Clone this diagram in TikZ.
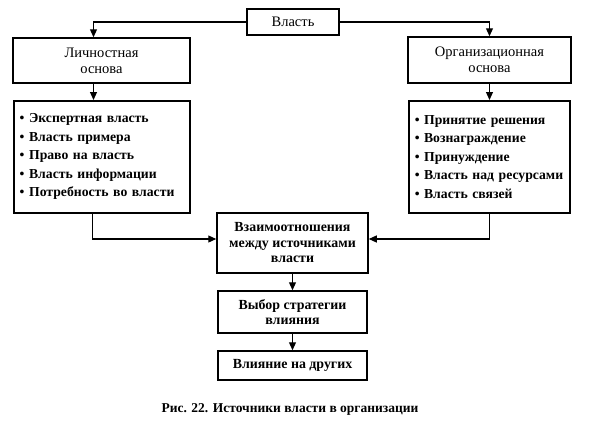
\documentclass[tikz,border=0pt]{standalone}
\usepackage{fontspec}
\setmainfont{Liberation Serif}
\usetikzlibrary{positioning,arrows.meta}

\begin{document}
\begin{tikzpicture}[%
        x=1pt, y=-1pt,
        box/.style={%
            draw, line width=1.5pt, inner sep=2pt,
            align=center, node font=\fontsize{14.5}{16}\selectfont,
        },
        listbox/.style={%
            box, align=left, anchor=north west, text width=#1,
            node font=\fontsize{13.7}{18.5}\selectfont\bfseries,
            inner xsep=6pt, inner ysep=5pt,
        },
        chainbox/.style={%
            box, node font=\fontsize{13.9}{15.5}\selectfont\bfseries,
        },
        link/.style={%
            line width=1.2pt, -{Triangle[length=8pt,width=7pt]},
        },
    ]
    \useasboundingbox (0,0) rectangle (590,429);

    % top
    \node (power) at (293,22) [box, minimum width=92pt, minimum height=26pt] {Власть};

    \node (personal) at (101.5,60.5) [box, minimum width=177pt, minimum height=45pt] {Личностная\\основа};
    \node (organizational) at (489.5,60) [box, minimum width=163pt, minimum height=46pt] {Организационная\\основа};

    % lists
    \node (personal_list) at (13,100) [listbox=164pt, minimum height=112pt] {%
        \textbullet\ Экспертная власть\\
        \textbullet\ Власть примера\\
        \textbullet\ Право на власть\\
        \textbullet\ Власть информации\\
        \textbullet\ Потребность во власти};
    \node (organizational_list) at (408,100) [listbox=149pt, minimum height=112pt] {%
        \textbullet\ Принятие решения\\
        \textbullet\ Вознаграждение\\
        \textbullet\ Принуждение\\
        \textbullet\ Власть над ресурсами\\
        \textbullet\ Власть связей};

    % bottom chain
    \node (relations) at (292.5,243) [chainbox, minimum width=151pt, minimum height=60pt] {Взаимоотношения\\между источниками\\власти};
    \node (strategy) at (292.5,312) [chainbox, minimum width=149pt, minimum height=42pt] {Выбор стратегии\\влияния};
    \node (influence) at (292.5,365.5) [chainbox, minimum width=149pt, minimum height=29pt] {Влияние на других};

    \node (caption) at (290,409) [node font=\fontsize{13.5}{15}\selectfont\bfseries] {Рис. 22. Источники власти в организации};

    % connectors
    \draw [link] (power.west) -| ([xshift=-8pt]personal.north);
    \draw [link] (power.east) -| (organizational.north);
    \draw [link] ([xshift=-8pt]personal.south) -- ([xshift=-8pt]personal.south |- personal_list.north);
    \draw [link] (organizational.south) -- (organizational.south |- organizational_list.north);
    \draw [link] ([xshift=-9pt]personal_list.south) |- ([yshift=4pt]relations.west);
    \draw [link] (organizational_list.south) |- ([yshift=4pt]relations.east);
    \draw [link] (relations) -- (strategy);
    \draw [link] (strategy) -- (influence);
\end{tikzpicture}
\end{document}
